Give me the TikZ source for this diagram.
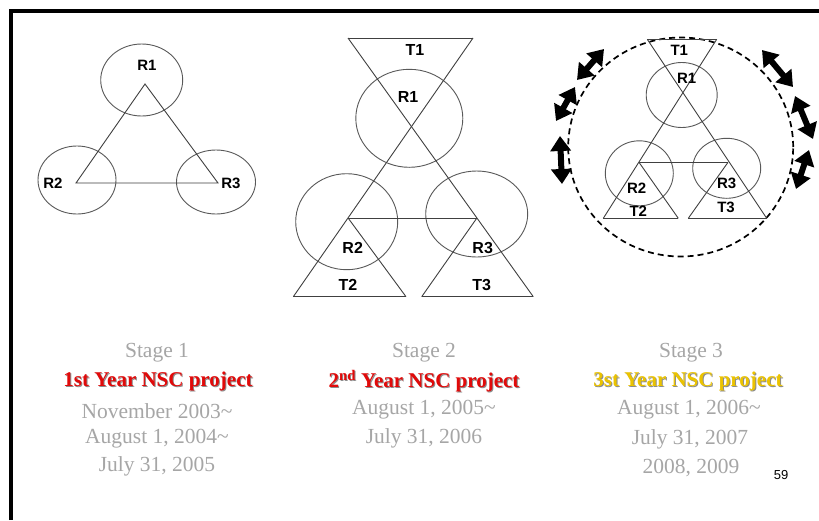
\documentclass[tikz,border=0pt]{standalone}
\usepackage{fontspec}
\setmainfont{Liberation Serif}
\newfontfamily\lsans{Liberation Sans}
\usetikzlibrary{shapes.geometric,arrows.meta}
\definecolor{redtxt}{RGB}{225,10,10}
\definecolor{goldtxt}{RGB}{235,195,0}
\begin{document}
\begin{tikzpicture}[x=1pt,y=-1pt,
 ring/.style={draw=black!65, line width=0.9pt, ellipse, inner sep=0pt},
 tline/.style={draw=black!75, line width=0.9pt},
 lab/.style={font=\lsans\bfseries\fontsize{15}{15}\selectfont, inner sep=0pt},
 labb/.style={font=\lsans\bfseries\fontsize{16}{16}\selectfont, inner sep=0pt},
 dring/.style={draw=black, line width=1.7pt, dash pattern=on 6pt off 4pt, ellipse, inner sep=0pt},
 dbl/.style={line width=6pt, {Triangle[width=20pt,length=15pt]}-{Triangle[width=20pt,length=15pt]}},
 gtxt/.style={text=black!35, font=\fontsize{21.5}{21.5}\selectfont, inner sep=0pt},
 rtxt/.style={font=\bfseries\fontsize{21}{21}\selectfont, inner sep=0pt},
 shad/.style={text=black!45, font=\bfseries\fontsize{21}{21}\selectfont, inner sep=0pt},
]
\useasboundingbox (0,0) rectangle (819,520);
\fill[white] (0,0) rectangle (819,520);
% frame
\coordinate (fr1) at (10.5,520);
\coordinate (fr2) at (10.5,10.5);
\coordinate (fr3) at (819,10.5);
\draw[line width=4pt] (fr1) -- (fr2) -- (fr3);

% ---------- Stage 1 ----------
\node[ring, minimum width=82, minimum height=72] (s1r1) at (141.7,80) {};
\node[ring, minimum width=78, minimum height=68] (s1r2) at (77,180) {};
\node[ring, minimum width=79, minimum height=64] (s1r3) at (216,182) {};
\coordinate (s1a) at (145,84);
\coordinate (s1b) at (76,183);
\coordinate (s1c) at (218,183);
\draw[tline] (s1a) -- (s1b) -- (s1c) -- cycle;
\node[lab] (s1l1) at (147,65) {R1};
\node[lab] (s1l2) at (53,183) {R2};
\node[lab] (s1l3) at (231,183) {R3};

% ---------- Stage 2 ----------
\node[ring, minimum width=107, minimum height=98] (s2r1) at (409.3,118.3) {};
\node[ring, minimum width=102, minimum height=96] (s2r2) at (346.7,221.7) {};
\node[ring, minimum width=102, minimum height=86] (s2r3) at (476.7,214) {};
\coordinate (t1l) at (348,38);
\coordinate (t1r) at (473,38);
\coordinate (t2a) at (348.3,218.3);
\coordinate (t2l) at (293.3,296.7);
\coordinate (t2r) at (406,296.7);
\coordinate (t3a) at (476.7,218.3);
\coordinate (t3l) at (421.7,296.7);
\coordinate (t3r) at (533.3,296.7);
\draw[tline] (t1l) -- (t1r);
\draw[tline] (t1r) -- (t2l);
\draw[tline] (t1l) -- (t3r);
\draw[tline] (t2a) -- (t2r);
\draw[tline] (t3a) -- (t3l);
\draw[tline] (t2l) -- (t2r);
\draw[tline] (t3l) -- (t3r);
\draw[tline] (t2a) -- (t3a);
\node[labb] (s2t1) at (415,50) {T1};
\node[labb] (s2l1) at (408,97) {R1};
\node[labb] (s2l2) at (352.7,248) {R2};
\node[labb] (s2l3) at (482.7,248) {R3};
\node[labb] (s2t2) at (348,285) {T2};
\node[labb] (s2t3) at (481.7,285) {T3};

% ---------- Stage 3 ----------
\node[dring, minimum width=225, minimum height=219] (s3big) at (680.7,147) {};
\node[ring, minimum width=71, minimum height=65] (s3r1) at (681.7,95) {};
\node[ring, minimum width=68, minimum height=65] (s3r2) at (639.3,173.3) {};
\node[ring, minimum width=68, minimum height=60] (s3r3) at (726.7,168.3) {};
\coordinate (u1l) at (647.3,39.3);
\coordinate (u1r) at (716.7,39.3);
\coordinate (u2a) at (639,162.3);
\coordinate (u2l) at (603.3,218.3);
\coordinate (u2r) at (678.3,218.3);
\coordinate (u3a) at (728,162.3);
\coordinate (u3l) at (688.3,218.3);
\coordinate (u3r) at (766.7,218.3);
\draw[tline, line width=1.4pt] (u1l) -- (u1r);
\draw[tline] (u1r) -- (u2l);
\draw[tline] (u1l) -- (u3r);
\draw[tline] (u2a) -- (u2r);
\draw[tline] (u3a) -- (u3l);
\draw[tline, line width=1.3pt] (u2l) -- (u2r);
\draw[tline, line width=1.3pt] (u3l) -- (u3r);
\draw[tline] (u2a) -- (u3a);
\node[lab] (s3t1) at (679.3,50) {T1};
\node[lab] (s3l1) at (686.7,78) {R1};
\node[lab] (s3l2) at (636.7,188) {R2};
\node[lab] (s3l3) at (726.7,183) {R3};
\node[lab] (s3t2) at (638.3,211.7) {T2};
\node[lab] (s3t3) at (726,207) {T3};

% double arrows
\coordinate (a1s) at (577,80);  \coordinate (a1e) at (604,49);
\coordinate (a2s) at (556,121); \coordinate (a2e) at (575,87);
\coordinate (a3s) at (560,136); \coordinate (a3e) at (562,184);
\coordinate (a4s) at (762,50);  \coordinate (a4e) at (793,87);
\coordinate (a5s) at (795,96);  \coordinate (a5e) at (813,139);
\coordinate (a6s) at (809,150); \coordinate (a6e) at (796,189);
\draw[dbl] (a1s) -- (a1e);
\draw[dbl] (a2s) -- (a2e);
\draw[dbl] (a3s) -- (a3e);
\draw[dbl] (a4s) -- (a4e);
\draw[dbl] (a5s) -- (a5e);
\draw[dbl] (a6s) -- (a6e);

% ---------- texts ----------
\node[gtxt] (c1a) at (157,353) {Stage 1};
\node[shad] (c1bs) at (159,382) {1st Year NSC project};
\node[rtxt, text=redtxt] (c1b) at (158,381) {1st Year NSC project};
\node[gtxt] (c1c) at (157,411) {November 2003\textasciitilde};
\node[gtxt] (c1d) at (157,439) {August 1, 2004\textasciitilde};
\node[gtxt] (c1e) at (157,466) {July 31, 2005};

\node[gtxt] (c2a) at (424,353) {Stage 2};
\node[shad] (c2bs) at (425,382) {2\textsuperscript{nd} Year NSC project};
\node[rtxt, text=redtxt] (c2b) at (424,381) {2\textsuperscript{nd} Year NSC project};
\node[gtxt] (c2c) at (424,410) {August 1, 2005\textasciitilde};
\node[gtxt] (c2d) at (424,438) {July 31, 2006};

\node[gtxt] (c3a) at (691,353) {Stage 3};
\node[shad] (c3bs) at (689,382) {3st Year NSC project};
\node[rtxt, text=goldtxt] (c3b) at (688,381) {3st Year NSC project};
\node[gtxt] (c3c) at (689,410) {August 1, 2006\textasciitilde};
\node[gtxt] (c3d) at (690,439) {July 31, 2007};
\node[gtxt] (c3e) at (691,468) {2008, 2009};

\node[font=\lsans\fontsize{13}{13}\selectfont, inner sep=0pt] (pg) at (781,475) {59};
\end{tikzpicture}
\end{document}
